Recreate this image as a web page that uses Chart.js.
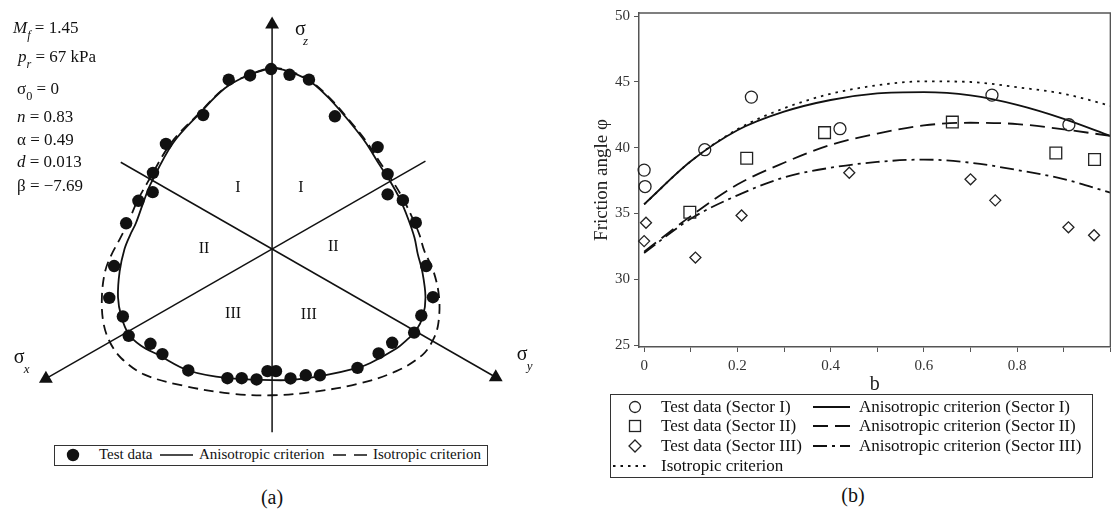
<!DOCTYPE html>
<html>
<head>
<meta charset="utf-8">
<script src="https://cdn.jsdelivr.net/npm/chart.js@4.4.1/dist/chart.umd.min.js"></script>
<style>
  html, body { margin: 0; padding: 0; background: #fff; width: 1111px; height: 510px; overflow: hidden; }
  body { position: relative; font-family: "Liberation Serif", "Times New Roman", serif; color: #111; }
  canvas { position: absolute; }
  #chartA { left: 0; top: 0; }
  #chartB { left: 560px; top: 0; }
  .t { position: absolute; white-space: nowrap; line-height: 1; }
  .p { font-size: 17px; }
  .p sub { font-size: 0.72em; vertical-align: -0.45em; }
  .la { font-size: 15px; }
  .lb { font-size: 17px; }
  .cap { font-size: 20px; transform: translateX(-50%); }
  #marks { position: absolute; left: 0; top: 0; pointer-events: none; }
</style>
</head>
<body>
<canvas id="chartA" width="550" height="445"></canvas>
<canvas id="chartB" width="560" height="400"></canvas>

<!-- model parameters, panel (a) -->
<div class="t p" style="left:13px;top:19px"><i>M</i><sub><i>f</i></sub> = 1.45</div>
<div class="t p" style="left:18px;top:48px"><i>p</i><sub><i>r</i></sub> = 67 kPa</div>
<div class="t p" style="left:17px;top:80px">σ<sub>0</sub> = 0</div>
<div class="t p" style="left:17px;top:108px"><i>n</i> = 0.83</div>
<div class="t p" style="left:17px;top:131px">α = 0.49</div>
<div class="t p" style="left:17px;top:153px"><i>d</i> = 0.013</div>
<div class="t p" style="left:17px;top:177px">β = −7.69</div>

<!-- legend (a) -->
<div class="t la" style="left:99px;top:447px">Test data</div>
<div class="t la" style="left:199px;top:447px">Anisotropic criterion</div>
<div class="t la" style="left:373px;top:447px">Isotropic criterion</div>

<!-- legend (b) -->
<div class="t lb" style="left:661px;top:398px">Test data (Sector I)</div>
<div class="t lb" style="left:661px;top:417px">Test data (Sector II)</div>
<div class="t lb" style="left:661px;top:437px">Test data (Sector III)</div>
<div class="t lb" style="left:661px;top:457px">Isotropic criterion</div>
<div class="t lb" style="left:859px;top:398px">Anisotropic criterion (Sector I)</div>
<div class="t lb" style="left:859px;top:417px">Anisotropic criterion (Sector II)</div>
<div class="t lb" style="left:859px;top:437px">Anisotropic criterion (Sector III)</div>

<div class="t cap" style="left:272px;top:487px">(a)</div>
<div class="t cap" style="left:853px;top:485px">(b)</div>

<svg id="marks" width="1111" height="510">
  <!-- legend (a) -->
  <rect x="54.5" y="445.5" width="433" height="20" fill="none" stroke="#333" stroke-width="1"/>
  <circle cx="73" cy="455" r="6.2" fill="#111"/>
  <line x1="160" y1="455" x2="193" y2="455" stroke="#111" stroke-width="1.6"/>
  <line x1="333" y1="455" x2="367" y2="455" stroke="#111" stroke-width="1.6" stroke-dasharray="13 8"/>
  <!-- legend (b) -->
  <rect x="610.5" y="394.5" width="482" height="83" fill="none" stroke="#333" stroke-width="1"/>
  <circle cx="635" cy="407" r="5.5" fill="none" stroke="#222" stroke-width="1.3"/>
  <rect x="629.5" y="420.5" width="11" height="11" fill="none" stroke="#222" stroke-width="1.3"/>
  <polygon points="635,440 641,446 635,452 629,446" fill="none" stroke="#222" stroke-width="1.3"/>
  <line x1="813" y1="407" x2="850" y2="407" stroke="#111" stroke-width="1.8"/>
  <line x1="813" y1="426" x2="850" y2="426" stroke="#111" stroke-width="1.8" stroke-dasharray="15 7"/>
  <line x1="813" y1="446" x2="850" y2="446" stroke="#111" stroke-width="1.8" stroke-dasharray="14 5 3 5"/>
  <line x1="613" y1="466" x2="650" y2="466" stroke="#111" stroke-width="1.8" stroke-dasharray="2.5 5"/>
</svg>

<script>
const SERIF = '"Liberation Serif", "Times New Roman", serif';

// ---------- panel (a): deviatoric plane ----------
// test data (normalised stress coordinates)
const testX = [-0.01, -0.227, -0.447, 0.18, 0.38, -0.71, 0.647, -1.093, 1.087, -1.227, 1.19, -1.23, 1.19,
  -1.377, 1.347, -1.503, 1.48, -1.627, 1.587, -1.677, 1.657, -1.537, 1.537, -1.477, 1.463, -1.253, 1.237,
  -1.13, 1.097, -0.863, 0.88, -0.46, -0.313, -0.16, -0.047, 0.04, 0.19, 0.347, 0.493];
const testY = [1.867, 1.80, 1.757, 1.807, 1.757, 1.39, 1.377, 1.09, 1.057, 0.79, 0.777, 0.59, 0.567,
  0.50, 0.507, 0.267, 0.273, -0.177, -0.177, -0.507, -0.50, -0.70, -0.69, -0.90, -0.867, -0.983, -0.973,
  -1.09, -1.083, -1.26, -1.233, -1.34, -1.34, -1.353, -1.267, -1.267, -1.343, -1.31, -1.31];

// anisotropic criterion (closed curve, clockwise from sigma_z)
const anisoX = [0, 0.2, 0.4, 0.6, 0.8, 0.967, 1.10, 1.217, 1.317, 1.40, 1.467, 1.50, 1.547, 1.58, 1.553, 1.48,
  1.38, 1.28, 1.013, 0.88, 0.513, 0.213, 0, -0.453, -0.863, -1.17, -1.353, -1.477, -1.553, -1.587, -1.57,
  -1.52, -1.46, -1.403, -1.32, -1.247, -1.02, -0.753, -0.487, -0.253, 0];
const anisoY = [1.883, 1.833, 1.733, 1.55, 1.317, 1.10, 0.883, 0.70, 0.517, 0.317, 0.117, -0.05, -0.233, -0.50, -0.70, -0.85,
  -0.95, -1.033, -1.183, -1.233, -1.317, -1.357, -1.36, -1.34, -1.26, -1.10, -1.0, -0.883, -0.70, -0.50, -0.233,
  0.0, 0.15, 0.267, 0.50, 0.683, 1.10, 1.40, 1.667, 1.80, 1.883];

// isotropic criterion
const isoX = [0, 0.2, 0.4, 0.6, 0.8, 0.967, 1.11, 1.233, 1.333, 1.433, 1.517, 1.567, 1.663, 1.72, 1.713, 1.663,
  1.547, 1.28, 0.88, 0.413, 0, -0.42, -0.92, -1.32, -1.553, -1.67, -1.737, -1.753, -1.72, -1.655, -1.57, -1.487,
  -1.387, -1.287, -1.04, -0.76, -0.49, -0.255, 0];
const isoY = [1.89, 1.84, 1.74, 1.56, 1.33, 1.12, 0.90, 0.717, 0.55, 0.35, 0.15, -0.017, -0.233, -0.50, -0.767, -0.933,
  -1.10, -1.267, -1.40, -1.483, -1.517, -1.50, -1.417, -1.30, -1.133, -0.967, -0.767, -0.50, -0.233, -0.06, 0.10, 0.267,
  0.50, 0.683, 1.10, 1.40, 1.67, 1.80, 1.89];

// stress axes: direction (deg), arrow length, length of the opposite (sector) line
const axisAngle = [90, 210, 330];
const axisFront = [2.33, 2.69, 2.66];
const axisBack = [1.90, 1.824, 1.80];
const axisSub = ['z', 'x', 'y'];
const axisLabelX = [0.235, -2.66, 2.52];
const axisLabelY = [2.27, -1.13, -1.10];

// sector names
const sectorNames = ['I', 'I', 'II', 'II', 'III', 'III'];
const sectorAngle = [119, 65, 180, 2, 239, 299];
const sectorRadius = [0.725, 0.70, 0.70, 0.63, 0.78, 0.78];

// ---------- panel (b): friction angle vs b ----------
const bSecI = [0, 0.002, 0.13, 0.23, 0.42, 0.746, 0.911];
const phiSecI = [38.3, 37.05, 39.85, 43.85, 41.45, 44.0, 41.75];
const bSecII = [0.098, 0.22, 0.387, 0.661, 0.883, 0.966];
const phiSecII = [35.1, 39.2, 41.15, 41.95, 39.6, 39.1];
const bSecIII = [0.004, 0.0, 0.11, 0.209, 0.44, 0.70, 0.753, 0.91, 0.965];
const phiSecIII = [34.3, 32.9, 31.65, 34.85, 38.1, 37.6, 36.0, 33.95, 33.35];

const bCurve = [0, 0.1, 0.2, 0.3, 0.4, 0.5, 0.6, 0.7, 0.8, 0.9, 1.0];
const anisoSecI = [35.7, 38.97, 41.33, 42.74, 43.63, 44.13, 44.23, 43.98, 43.26, 42.2, 40.9];
const anisoSecII = [32.1, 34.8, 37.2, 38.86, 40.22, 41.08, 41.7, 41.9, 41.8, 41.4, 40.9];
const anisoSecIII = [32.0, 34.6, 36.38, 37.74, 38.48, 38.92, 39.1, 38.86, 38.31, 37.62, 36.58];
const isoCurve = [35.7, 38.97, 41.4, 43.0, 44.1, 44.75, 45.05, 45.0, 44.6, 44.1, 43.2];

const xTicksB = [0, 0.2, 0.4, 0.6, 0.8];
const yTicksB = [25, 30, 35, 40, 45, 50];

const zip = (xs, ys) => xs.map((x, i) => ({ x: x, y: ys[i] }));
const rad = d => d * Math.PI / 180;

// ═══ panel (a) ═══
const axisLines = axisAngle.map((a, i) => ({
  data: [
    { x: -axisBack[i] * Math.cos(rad(a)), y: -axisBack[i] * Math.sin(rad(a)) },
    { x: axisFront[i] * Math.cos(rad(a)), y: axisFront[i] * Math.sin(rad(a)) }
  ],
  showLine: true, borderColor: '#111', borderWidth: 1.5, pointRadius: 0, clip: false
}));

const arrowHeads = {
  data: axisAngle.map((a, i) => ({ x: axisFront[i] * Math.cos(rad(a)), y: axisFront[i] * Math.sin(rad(a)) })),
  pointStyle: 'triangle',
  pointRotation: axisAngle.map(a => 90 - a),
  pointRadius: 8,
  pointBackgroundColor: '#111',
  pointBorderWidth: 0,
  clip: false
};

const diagramText = {
  id: 'diagramText',
  afterDatasetsDraw(chart) {
    const { ctx, scales: { x, y } } = chart;
    ctx.save();
    ctx.fillStyle = '#111';
    ctx.textAlign = 'center';
    ctx.textBaseline = 'middle';
    ctx.font = '16px ' + SERIF;
    sectorNames.forEach((s, i) => {
      const a = rad(sectorAngle[i]);
      ctx.fillText(s, x.getPixelForValue(sectorRadius[i] * Math.cos(a)),
        y.getPixelForValue(sectorRadius[i] * Math.sin(a)));
    });
    ctx.textAlign = 'left';
    ctx.textBaseline = 'alphabetic';
    axisSub.forEach((s, i) => {
      const px = x.getPixelForValue(axisLabelX[i]);
      const py = y.getPixelForValue(axisLabelY[i]);
      ctx.font = '20px ' + SERIF;
      ctx.fillText('σ', px, py + 5);
      ctx.font = 'italic 13px ' + SERIF;
      ctx.fillText(s, px + (s === 'z' ? 8 : 10), py + 15);
    });
    ctx.restore();
  }
};

new Chart(document.getElementById('chartA'), {
  type: 'scatter',
  data: {
    datasets: [
      {
        data: zip(testX, testY), pointStyle: 'circle', pointRadius: 6.2,
        pointBackgroundColor: '#111', pointBorderWidth: 0, clip: false
      },
      {
        data: zip(anisoX, anisoY), showLine: true, borderColor: '#111', borderWidth: 1.8,
        tension: 0.35, pointRadius: 0, clip: false
      },
      {
        data: zip(isoX, isoY), showLine: true, borderColor: '#111', borderWidth: 1.8,
        borderDash: [10, 6], tension: 0.35, pointRadius: 0, clip: false
      },
      arrowHeads,
      ...axisLines
    ]
  },
  options: {
    responsive: false,
    animation: false,
    events: [],
    layout: { padding: 0 },
    plugins: { legend: { display: false }, tooltip: { enabled: false } },
    scales: {
      x: { type: 'linear', display: false, min: -2.72, max: 2.78 },
      y: { type: 'linear', display: false, min: -1.95, max: 2.50 }
    }
  },
  plugins: [diagramText]
});

// ═══ panel (b) ═══
const frameTop = {
  id: 'frameTop',
  afterDraw(chart) {
    const { ctx, chartArea: a } = chart;
    ctx.save();
    ctx.strokeStyle = '#555';
    ctx.lineWidth = 1.5;
    ctx.beginPath();
    ctx.moveTo(a.left, a.top);
    ctx.lineTo(a.right, a.top);
    ctx.lineTo(a.right, a.bottom);
    ctx.stroke();
    ctx.restore();
  }
};

const markerStyle = (style, r) => ({
  pointStyle: style, pointRadius: r, pointBorderColor: '#222', pointBackgroundColor: 'rgba(0,0,0,0)',
  pointBorderWidth: 1.3, clip: false
});
const curveStyle = (dash) => ({
  showLine: true, borderColor: '#111', borderWidth: 1.8, borderDash: dash, pointRadius: 0,
  cubicInterpolationMode: 'monotone'
});
const tickFont = { family: SERIF, size: 15 };

new Chart(document.getElementById('chartB'), {
  type: 'scatter',
  data: {
    datasets: [
      { label: 'Test data (Sector I)', data: zip(bSecI, phiSecI), ...markerStyle('circle', 6) },
      { label: 'Test data (Sector II)', data: zip(bSecII, phiSecII), ...markerStyle('rect', 8.3) },
      { label: 'Test data (Sector III)', data: zip(bSecIII, phiSecIII), ...markerStyle('rectRot', 5.5) },
      { label: 'Anisotropic criterion (Sector I)', data: zip(bCurve, anisoSecI), ...curveStyle([]) },
      { label: 'Anisotropic criterion (Sector II)', data: zip(bCurve, anisoSecII), ...curveStyle([15, 7]) },
      { label: 'Anisotropic criterion (Sector III)', data: zip(bCurve, anisoSecIII), ...curveStyle([14, 5, 3, 5]) },
      { label: 'Isotropic criterion', data: zip(bCurve, isoCurve), ...curveStyle([2.5, 5]) }
    ]
  },
  options: {
    responsive: false,
    animation: false,
    events: [],
    layout: { padding: { top: 5, right: 5, bottom: 0, left: 0 } },
    plugins: { legend: { display: false }, tooltip: { enabled: false } },
    scales: {
      x: {
        type: 'linear', min: -0.011, max: 1.0,
        afterFit: s => { s.height = 53; },
        ticks: {
          stepSize: 0.1, includeBounds: false, autoSkip: false, maxRotation: 0, padding: 5,
          color: '#333', font: tickFont,
          callback: v => {
            const hit = xTicksB.find(t => Math.abs(t - v) < 1e-6);
            return hit === undefined ? '' : String(hit);
          }
        },
        grid: { drawOnChartArea: false, drawTicks: true, tickLength: 5, color: '#555', lineWidth: 1 },
        border: { color: '#555', width: 1.5 },
        title: { display: true, text: 'b', color: '#222', font: { family: SERIF, size: 20 }, padding: { top: 0, bottom: 3 } }
      },
      y: {
        type: 'linear', min: 24.85, max: 50.245,
        afterFit: s => { s.width = 79; },
        ticks: {
          stepSize: 5, includeBounds: false, padding: 4, color: '#333', font: tickFont,
          callback: v => (yTicksB.includes(v) ? String(v) : '')
        },
        grid: { drawOnChartArea: false, drawTicks: true, tickLength: 5, color: '#555', lineWidth: 1 },
        border: { color: '#555', width: 1.5 },
        title: {
          display: true, text: 'Friction angle φ', color: '#222',
          font: { family: SERIF, size: 19 }, padding: { top: 31, bottom: 0 }
        }
      }
    }
  },
  plugins: [frameTop]
});
</script>
</body>
</html>
